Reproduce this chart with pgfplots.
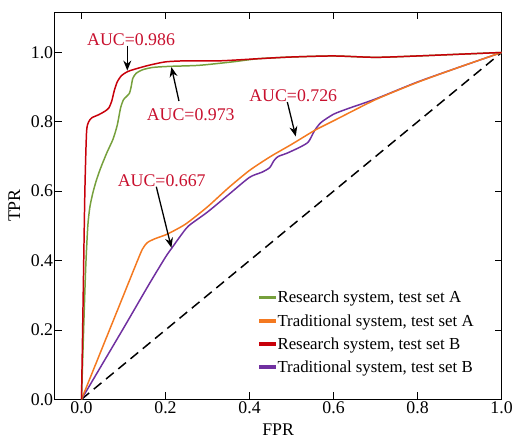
\documentclass[border=0pt]{standalone}
\usepackage{fontspec}
\setmainfont{Liberation Serif}
\usepackage{pgfplots}
\pgfplotsset{compat=1.18}
\usetikzlibrary{arrows.meta}
\definecolor{cgreen}{HTML}{76A03C}
\definecolor{corange}{HTML}{F47920}
\definecolor{cred}{HTML}{C8000A}
\definecolor{cpurple}{HTML}{7030A0}
\definecolor{ctext}{HTML}{C8102E}
\tikzset{aucarrow/.style={black, line width=1.3bp, -{Stealth[length=10bp,width=8bp]}},
  auctext/.style={text=ctext, font=\fontsize{18}{18}\selectfont, inner sep=1bp}}

\begin{document}
\begin{tikzpicture}
\begin{axis}[
    scale only axis,
    width=450bp, height=390bp,
    xmin=-0.064, xmax=1.0, ymin=0, ymax=1.117,
    xtick={0,0.2,0.4,0.6,0.8,1.0},
    ytick={0,0.2,0.4,0.6,0.8,1.0},
    /pgf/number format/.cd, fixed, fixed zerofill, precision=1, assume math mode=true,
    /pgfplots/.cd,
    tick label style={font=\fontsize{18}{18}\selectfont},
    label style={font=\fontsize{18}{18}\selectfont},
    xlabel={FPR}, ylabel={TPR},
    xlabel style={yshift=-3bp},
    ylabel style={yshift=4bp},
    yticklabel style={xshift=2bp},
    xticklabel style={yshift=1bp},
    axis line style={black, line width=0.8bp},
    major tick length=7bp,
    tick style={black, line width=0.8bp},
    legend style={draw=none, fill=none, at={(0.455,0.287)}, anchor=north west,
      font=\fontsize{17}{17}\selectfont, row sep=6bp, inner sep=1bp},
    legend cell align=left,
    legend image code/.code={\fill[#1] (0bp,-0.9bp) rectangle (15bp,0.9bp);},
    every axis plot/.append style={line width=1.5bp},
]
\addplot[black, dashed, dash pattern=on 10bp off 6bp, forget plot] coordinates {(0,0) (1,1)};
\addplot[cpurple, smooth, tension=0.4, forget plot] coordinates {
(0,0) (0.1,0.205) (0.16,0.33) (0.2,0.41) (0.215,0.436) (0.235,0.47) (0.255,0.5)
(0.3,0.54) (0.35,0.59) (0.4,0.64) (0.43,0.655) (0.448,0.668) (0.458,0.688) (0.468,0.70)
(0.49,0.71) (0.52,0.727) (0.54,0.742) (0.555,0.775) (0.57,0.798) (0.6,0.822) (0.634,0.838)
(0.7,0.866) (0.8,0.915) (0.9,0.958) (1,1)};
\addplot[corange, smooth, tension=0.4, forget plot] coordinates {
(0,0) (0.05,0.15) (0.1,0.30) (0.13,0.39) (0.145,0.433) (0.157,0.452) (0.175,0.463)
(0.2,0.474) (0.22,0.486) (0.25,0.507) (0.3,0.555) (0.35,0.61) (0.4,0.66) (0.45,0.70)
(0.5,0.735) (0.556,0.776) (0.6,0.803) (0.7,0.864) (0.8,0.914) (0.9,0.958) (1,1)};
\addplot[cgreen, smooth, tension=0.4, forget plot] coordinates {
(0,0) (0.005,0.2) (0.01,0.38) (0.015,0.5) (0.02,0.555) (0.027,0.595) (0.035,0.63)
(0.045,0.665) (0.06,0.71) (0.075,0.75) (0.085,0.79) (0.093,0.84) (0.1,0.864) (0.108,0.874)
(0.114,0.882) (0.118,0.9) (0.122,0.925) (0.13,0.94) (0.145,0.95) (0.17,0.957) (0.21,0.96)
(0.28,0.963) (0.36,0.973) (0.42,0.982) (0.5,0.987) (0.6,0.99) (0.7,0.986) (0.8,0.99)
(0.9,0.995) (1,1)};
\addplot[cred, smooth, tension=0.4, forget plot] coordinates {
(0,0) (0.004,0.3) (0.008,0.6) (0.012,0.77) (0.017,0.80) (0.025,0.812) (0.04,0.82)
(0.055,0.83) (0.065,0.84) (0.072,0.86) (0.078,0.89) (0.085,0.915) (0.095,0.933)
(0.11,0.945) (0.13,0.953) (0.16,0.963) (0.2,0.973) (0.25,0.976) (0.33,0.976) (0.42,0.982)
(0.5,0.987) (0.6,0.99) (0.7,0.986) (0.8,0.99) (0.9,0.995) (1,1)};
\addlegendimage{cgreen}\addlegendentry{Research system, test set A}
\addlegendimage{corange}\addlegendentry{Traditional system, test set A}
\addlegendimage{cred}\addlegendentry{Research system, test set B}
\addlegendimage{cpurple}\addlegendentry{Traditional system, test set B}
\node[auctext] at (axis cs:0.118,1.037) {AUC=0.986};
\draw[aucarrow] (axis cs:0.109,1.02) -- (axis cs:0.109,0.948);
\node[auctext] at (axis cs:0.26,0.822) {AUC=0.973};
\draw[aucarrow] (axis cs:0.232,0.86) -- (axis cs:0.214,0.958);
\node[auctext] at (axis cs:0.504,0.874) {AUC=0.726};
\draw[aucarrow] (axis cs:0.49,0.857) -- (axis cs:0.51,0.758);
\node[auctext] at (axis cs:0.191,0.63) {AUC=0.667};
\draw[aucarrow] (axis cs:0.178,0.613) -- (axis cs:0.214,0.437);
\end{axis}
\path (current axis.south west) ++(-55bp,-41bp) coordinate (bbsw);
\path (current axis.north east) ++(11bp,12bp) coordinate (bbne);
\path (bbsw) rectangle (bbne);
\end{tikzpicture}
\end{document}
